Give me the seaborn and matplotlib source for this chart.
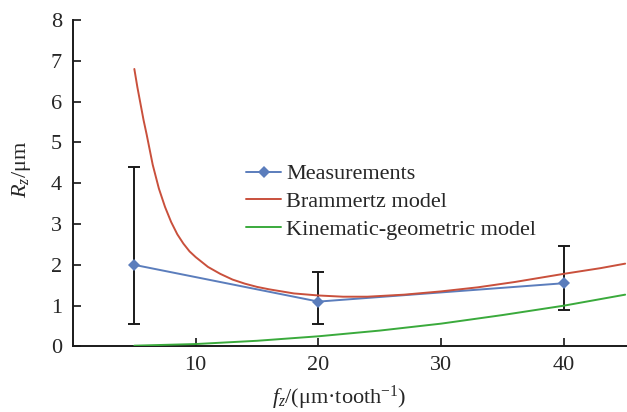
import numpy as np
import pandas as pd
import matplotlib
matplotlib.use("Agg")
import matplotlib.pyplot as plt
import seaborn as sns

# Measured roughness (points with min/max bars)
meas_fz = [5, 20, 40]
meas_rz = [2.0, 1.1, 1.55]
meas_lo = [0.55, 0.55, 0.9]
meas_hi = [4.4, 1.83, 2.47]

# Brammertz model curve
bram_fz = [5, 5.25, 5.5, 5.75, 6, 6.5, 7, 7.5, 8, 8.5, 9, 9.5, 10, 11, 12, 13,
           14, 15, 16, 17, 18, 20, 22, 24, 27, 30, 33, 36, 40, 43, 45]
bram_rz = [6.8, 6.35, 5.95, 5.55, 5.2, 4.45, 3.87, 3.42, 3.05, 2.75, 2.52,
           2.33, 2.19, 1.95, 1.78, 1.64, 1.54, 1.46, 1.40, 1.35, 1.30, 1.25,
           1.22, 1.22, 1.27, 1.35, 1.45, 1.58, 1.78, 1.92, 2.03]

# Kinematic-geometric model curve
kin_fz = [5, 10, 15, 20, 25, 30, 35, 40, 45]
kin_rz = [0.02, 0.06, 0.14, 0.25, 0.39, 0.56, 0.77, 1.0, 1.27]

sns.set_style("ticks")
plt.rcParams["font.family"] = ["Liberation Serif", "DejaVu Serif"]
plt.rcParams["mathtext.fontset"] = "custom"
plt.rcParams["mathtext.rm"] = "Liberation Serif"
plt.rcParams["mathtext.it"] = "Liberation Serif:italic"
fs = 16

blue = "#5b7dbc"
red = "#c9503c"
green = "#3aaa3c"

fig = plt.figure(figsize=(6.27, 4.12), dpi=100)
ax = fig.add_axes([0.1164, 0.159, 0.8836, 0.7925])

ax.errorbar(meas_fz, meas_rz,
            yerr=[np.array(meas_rz) - np.array(meas_lo), np.array(meas_hi) - np.array(meas_rz)],
            fmt="none", ecolor="#1a1a1a", elinewidth=1.4, capsize=4, capthick=1.4, zorder=2)
sns.lineplot(x=meas_fz, y=meas_rz, ax=ax, color=blue, marker="D", markersize=6,
             markeredgewidth=0, linewidth=1.4, label="Measurements", zorder=3)
sns.lineplot(x=bram_fz, y=bram_rz, ax=ax, color=red, linewidth=1.4,
             label="Brammertz model", zorder=3)
sns.lineplot(x=kin_fz, y=kin_rz, ax=ax, color=green, linewidth=1.4,
             label="Kinematic-geometric model", zorder=3)

ax.set_xlim(0, 45.15)
ax.set_ylim(0, 8)
ax.set_xticks([10, 20, 30, 40])
ax.set_yticks(range(0, 9))
ax.tick_params(direction="in", length=6, width=1.3, labelsize=fs)
ax.tick_params(axis="y", pad=8)
ax.tick_params(axis="x", pad=7)
for s in ["top", "right"]:
    ax.spines[s].set_visible(False)
for s in ["left", "bottom"]:
    ax.spines[s].set_linewidth(1.4)
    ax.spines[s].set_color("#1a1a1a")

ax.set_xlabel(r"$f_z$/(μm·tooth$^{-1}$)", fontsize=fs)
ax.set_ylabel(r"$R_z$/μm", fontsize=fs)
ax.xaxis.set_label_coords(0.48, -0.115)
ax.yaxis.set_label_coords(-0.072, 0.543)

ax.legend(loc="upper left", bbox_to_anchor=(0.276, 0.621), frameon=False,
          handlelength=1.6, handletextpad=0.2, labelspacing=0.33, fontsize=fs)

fig.savefig("out.png", dpi=100)
